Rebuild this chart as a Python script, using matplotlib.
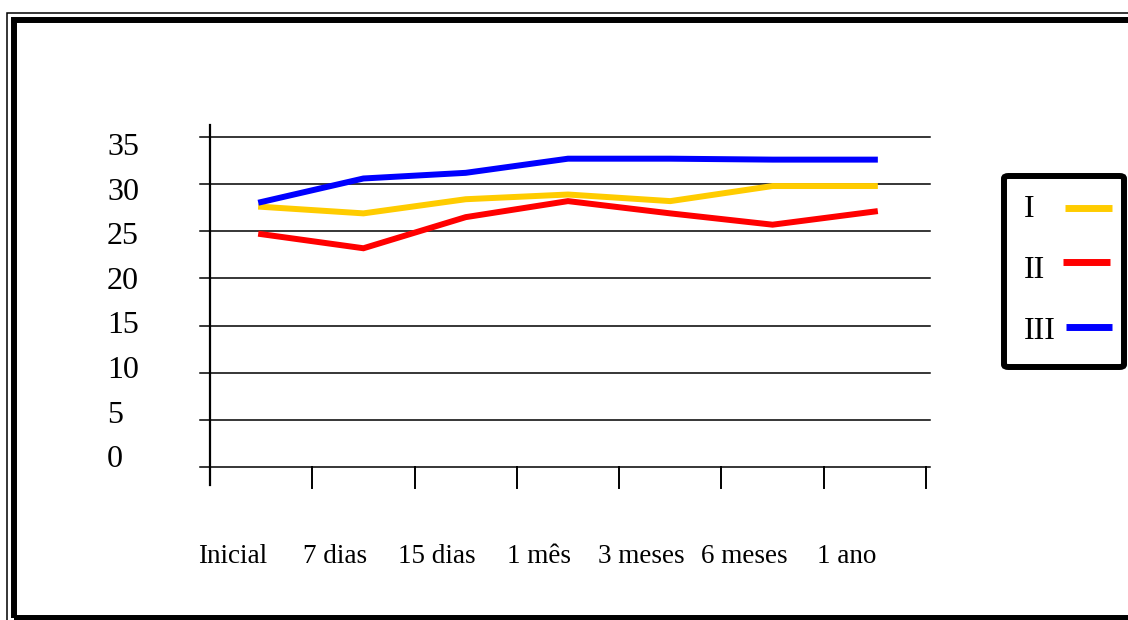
import numpy as np
import matplotlib.pyplot as plt
from matplotlib.patches import Rectangle, FancyBboxPatch
from matplotlib.lines import Line2D

# data
periods = ['Inicial', '7 dias', '15 dias', '1 mês', '3 meses', '6 meses', '1 ano']
serie_I = [27.6, 26.9, 28.4, 28.9, 28.2, 29.8, 29.8]
serie_II = [24.7, 23.2, 26.5, 28.2, 26.9, 25.7, 27.1]
serie_III = [28.1, 30.6, 31.2, 32.7, 32.7, 32.6, 32.6]
series_names = ['I', 'II', 'III']
colors = ['#FFCC00', '#FF0000', '#0000FF']
yticks = [0, 5, 10, 15, 20, 25, 30, 35]

W, H = 1128, 620
plt.rcParams['font.family'] = ['Liberation Serif', 'DejaVu Serif']

fig = plt.figure(figsize=(W / 100, H / 100), dpi=100)


def fx(px):
    return px / W


def fy(py):
    return 1 - py / H


# plot area: x 210..926 px, y 467 (0) .. 137 (35) px
ax = fig.add_axes([fx(210), fy(467), fx(926) - fx(210), fy(137) - fy(467)])
ax.set_xlim(-0.5, len(periods) - 0.5)
ax.set_ylim(0, 35)
ax.axis('off')

x = np.arange(len(periods))
for vals, c in zip([serie_I, serie_II, serie_III], colors):
    ax.plot(x, vals, color=c, lw=4.3, solid_joinstyle='miter', zorder=3)

# gridlines
for v in yticks:
    ax.axhline(v, xmin=-0.014, xmax=1.006, color='black', lw=1.1, clip_on=False, zorder=1)

# y axis line (runs past the plot area)
ax.plot([-0.5, -0.5], [-1.9, 36.25], color='black', lw=1.6, clip_on=False, zorder=2)

# x ticks at category boundaries
for b in np.arange(len(periods)) + 0.5:
    ax.plot([b, b], [0, -2.2], color='black', lw=1.4, clip_on=False, zorder=2)

# y tick labels (offset from the gridlines as in the original)
for i, v in enumerate(yticks[::-1]):
    fig.text(fx(107), fy(155 + i * 44.6), str(v), fontsize=23, ha='left', va='baseline')

# x labels
for i, lab in enumerate(periods):
    xp = 210 + (i - 0.28 + 0.5) * (716 / 7)
    fig.text(fx(xp), fy(563), lab, fontsize=19.5, ha='center', va='baseline')

# outer double frame
fig.patches.append(Rectangle((fx(7), fy(625)), fx(1145) - fx(7), fy(12.5) - fy(625),
                             fill=False, lw=1.1, ec='black', transform=fig.transFigure))
fig.patches.append(Rectangle((fx(14), fy(617.5)), fx(1140) - fx(14), fy(20) - fy(617.5),
                             fill=False, lw=4.3, ec='black', transform=fig.transFigure))

# legend box
fig.patches.append(FancyBboxPatch((fx(1004), fy(367)), fx(1124) - fx(1004), fy(176) - fy(367),
                                  boxstyle='round,pad=0,rounding_size=0.004',
                                  fill=False, lw=4.3, ec='black', transform=fig.transFigure))
leg_y_text = [217, 278, 339]
leg_y_line = [208, 262, 327]
leg_x_line = [(1065, 1112), (1063, 1110), (1066, 1112)]
for name, c, yt, yl, (x0, x1) in zip(series_names, colors, leg_y_text, leg_y_line, leg_x_line):
    fig.text(fx(1024), fy(yt), name, fontsize=23, ha='left', va='baseline')
    fig.lines.append(Line2D([fx(x0), fx(x1)], [fy(yl), fy(yl)], color=c, lw=5,
                            solid_capstyle='butt', transform=fig.transFigure))

fig.savefig('out.png', dpi=100)
